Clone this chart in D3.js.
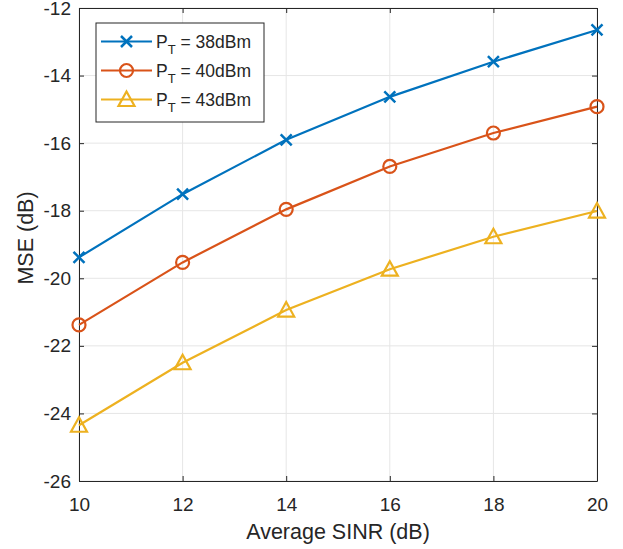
<!DOCTYPE html>
<meta charset="utf-8">
<title>MSE vs average SINR</title>
<style>
body { margin: 0; background: #fff; }
text { font-family: "Liberation Sans", Arial, sans-serif; fill: #262626; }
.grid line { stroke: #e6e6e6; stroke-width: 1px; }
.axis path, .axis line { stroke: #262626; }
.axis text { font-size: 19px; fill: #262626; }
.series { fill: none; stroke-width: 2.2px; }
</style>
<body>
<div id="chart"></div>
<script src="https://cdn.jsdelivr.net/npm/d3@7"></script>
<script>

// data
const sinr = [10, 12, 14, 16, 18, 20];
const mse38 = [-19.38, -17.51, -15.90, -14.63, -13.59, -12.65];
const mse40 = [-21.38, -19.53, -17.96, -16.69, -15.70, -14.92];
const mse43 = [-24.35, -22.50, -20.94, -19.73, -18.77, -18.01];
const seriesNames = ["38dBm", "40dBm", "43dBm"];
const xTicks = [10, 12, 14, 16, 18, 20];
const yTicks = [-26, -24, -22, -20, -18, -16, -14, -12];

const series = [
    { name: seriesNames[0], values: mse38, color: "#0072BD", marker: "x" },
    { name: seriesNames[1], values: mse40, color: "#D95319", marker: "o" },
    { name: seriesNames[2], values: mse43, color: "#EDB120", marker: "^" }
];

const width = 623, height = 549;
const margin = { top: 8, right: 26, bottom: 68, left: 79 };
const chartWidth = width - margin.left - margin.right;
const chartHeight = height - margin.top - margin.bottom;

const svg = d3.select("#chart").append("svg")
    .attr("width", width)
    .attr("height", height);

const g = svg.append("g")
    .attr("transform", `translate(${margin.left},${margin.top})`);

const x = d3.scaleLinear().domain([10, 20]).range([0, chartWidth]);
const y = d3.scaleLinear().domain([-26, -12]).range([chartHeight, 0]);

// grid
g.append("g").attr("class", "grid")
    .selectAll("line").data(xTicks).enter().append("line")
    .attr("x1", d => x(d)).attr("x2", d => x(d))
    .attr("y1", 0).attr("y2", chartHeight);
g.append("g").attr("class", "grid")
    .selectAll("line").data(yTicks).enter().append("line")
    .attr("y1", d => y(d)).attr("y2", d => y(d))
    .attr("x1", 0).attr("x2", chartWidth);

// axes (box with inward ticks like matlab)
const fmt = d => d3.format("d")(d).replace("\u2212", "-");
g.append("g").attr("class", "axis")
    .attr("transform", `translate(0,${chartHeight})`)
    .call(d3.axisBottom(x).tickValues(xTicks).tickSizeInner(-5).tickSizeOuter(0).tickPadding(17).tickFormat(fmt));
g.append("g").attr("class", "axis")
    .call(d3.axisLeft(y).tickValues(yTicks).tickSizeInner(-5).tickSizeOuter(0).tickPadding(8).tickFormat(fmt));
g.append("g").attr("class", "axis")
    .call(d3.axisTop(x).tickValues(xTicks).tickSizeInner(-5).tickSizeOuter(0).tickFormat(""));
g.append("g").attr("class", "axis")
    .attr("transform", `translate(${chartWidth},0)`)
    .call(d3.axisRight(y).tickValues(yTicks).tickSizeInner(-5).tickSizeOuter(0).tickFormat(""));

// labels
svg.append("text")
    .attr("x", margin.left + chartWidth / 2)
    .attr("y", 539)
    .attr("text-anchor", "middle")
    .attr("font-size", 21.5)
    .text("Average SINR (dB)");
svg.append("text")
    .attr("transform", `translate(33,238) rotate(-90)`)
    .attr("text-anchor", "middle")
    .attr("font-size", 21.5)
    .text("MSE (dB)");

// markers
function drawMarker(sel, type, color) {
    if (type === "x") {
        sel.append("path").attr("d", "M-5.5,-5.5L5.5,5.5M-5.5,5.5L5.5,-5.5")
            .attr("stroke", color).attr("stroke-width", 2.5).attr("fill", "none");
    } else if (type === "o") {
        sel.append("circle").attr("r", 6.5)
            .attr("stroke", color).attr("stroke-width", 2.2).attr("fill", "none");
    } else {
        sel.append("path").attr("d", "M0,-8L8,6.5L-8,6.5Z")
            .attr("stroke", color).attr("stroke-width", 2.2).attr("fill", "none");
    }
}

const line = d3.line().x((d, i) => x(sinr[i])).y(d => y(d));

series.forEach(s => {
    g.append("path").attr("class", "series")
        .attr("d", line(s.values))
        .attr("stroke", s.color);
    s.values.forEach((v, i) => {
        const m = g.append("g").attr("transform", `translate(${x(sinr[i])},${y(v)})`);
        drawMarker(m, s.marker, s.color);
    });
});

// legend
const legend = svg.append("g").attr("transform", "translate(96,23)");
legend.append("rect")
    .attr("width", 168).attr("height", 99)
    .attr("fill", "#fff").attr("stroke", "#262626").attr("stroke-width", 1);
series.forEach((s, i) => {
    const row = legend.append("g").attr("transform", `translate(0,${18.5 + i * 29})`);
    row.append("line").attr("x1", 5).attr("x2", 56).attr("y1", 0).attr("y2", 0)
        .attr("stroke", s.color).attr("stroke-width", 2.2);
    drawMarker(row.append("g").attr("transform", "translate(30.5,0)"), s.marker, s.color);
    const t = row.append("text").attr("x", 60).attr("y", 6).attr("font-size", 17.5);
    t.append("tspan").text("P");
    t.append("tspan").attr("font-size", 13).attr("dy", 6).text("T");
    t.append("tspan").attr("dy", -6).text(" = " + s.name);
});
</script>
</body>
</html>
